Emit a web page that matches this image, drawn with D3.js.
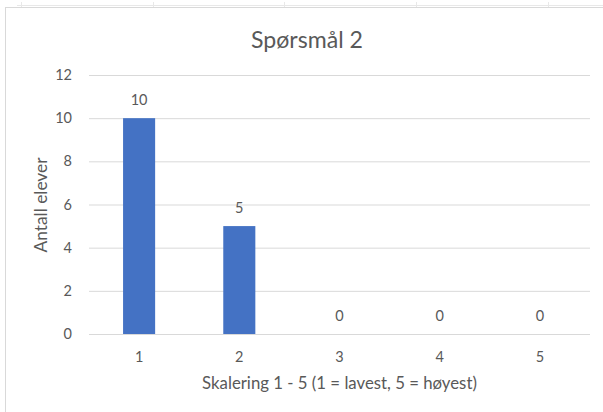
<!DOCTYPE html>
<html>
<head>
<meta charset="utf-8">
<script src="https://cdn.jsdelivr.net/npm/d3@7"></script>
<style>
  html, body { margin: 0; padding: 0; background: #fff; }
  svg { display: block; }
  text { font-family: Lato, "Open Sans", sans-serif; fill: #595959; }
</style>
</head>
<body>
<svg id="chart" width="603" height="412"></svg>
<script>
// Survey answers for question 2
const categories = ["1", "2", "3", "4", "5"];
const counts = [10, 5, 0, 0, 0];
const yTicks = [0, 2, 4, 6, 8, 10, 12];
const title = "Spørsmål 2";
const xTitle = "Skalering 1 - 5 (1 = lavest, 5 = høyest)";
const yTitle = "Antall elever";

const W = 603, H = 412;
const margin = { left: 89, right: 13, top: 75, bottom: 78 };
const tickFont = 14.5;
const svg = d3.select("#chart");

// size a text element so it spans the given width
function fitWidth(sel, width) {
  sel.attr("font-size", 100);
  const w = sel.node().getComputedTextLength();
  sel.attr("font-size", 100 * width / w);
  return sel;
}

// sheet cell grid behind the chart object
const sheet = svg.append("g").attr("stroke", "#e8e8e8");
sheet.append("line").attr("x1", 17).attr("x2", W).attr("y1", 5.5).attr("y2", 5.5);
[21, 153, 284, 416, 548].forEach(x => {
  sheet.append("line").attr("x1", x + 0.5).attr("x2", x + 0.5).attr("y1", 2).attr("y2", 7);
});

// chart area frame
svg.append("rect").attr("x", 5.5).attr("y", 7.5).attr("width", W + 10).attr("height", H + 10)
  .attr("fill", "#fff").attr("stroke", "#d9d9d9");

const x = d3.scaleBand().domain(categories)
  .range([margin.left, W - margin.right]).paddingInner(0.68).paddingOuter(0.34);
const y = d3.scaleLinear().domain([0, 12]).range([H - margin.bottom, margin.top]);

// horizontal gridlines with value ticks
const yAxis = d3.axisLeft(y).tickValues(yTicks).tickSize(-(W - margin.right - margin.left))
  .tickPadding(17).tickFormat(d3.format("d"));
const gy = svg.append("g").attr("transform", `translate(${margin.left},0)`).call(yAxis);
gy.select(".domain").remove();
gy.selectAll(".tick line").attr("stroke", "#d9d9d9");
gy.selectAll(".tick text").attr("font-size", tickFont).attr("fill", "#595959");

// category axis
const xAxis = d3.axisBottom(x).tickSize(0);
const gx = svg.append("g").attr("transform", `translate(0,${y(0)})`).call(xAxis);
gx.select(".domain").remove();
gx.selectAll(".tick text").attr("font-size", tickFont).attr("fill", "#595959")
  .attr("y", 28).attr("dy", 0);

// bars
svg.append("g").selectAll("rect").data(counts).join("rect")
  .attr("x", (d, i) => x(categories[i]))
  .attr("width", x.bandwidth())
  .attr("y", d => y(d))
  .attr("height", d => y(0) - y(d))
  .attr("fill", "#4472C4");

// value labels
svg.append("g").selectAll("text").data(counts).join("text")
  .attr("x", (d, i) => x(categories[i]) + x.bandwidth() / 2)
  .attr("y", d => y(d) - 13)
  .attr("text-anchor", "middle")
  .attr("font-size", tickFont)
  .text(d => d);

// titles
fitWidth(svg.append("text").attr("x", 307).attr("y", 48).attr("text-anchor", "middle")
  .text(title), 112);
fitWidth(svg.append("text").attr("x", 339.5).attr("y", 389).attr("text-anchor", "middle")
  .text(xTitle), 275);
fitWidth(svg.append("text").attr("transform", "translate(47,205) rotate(-90)")
  .attr("text-anchor", "middle").text(yTitle), 95);
</script>
</body>
</html>
